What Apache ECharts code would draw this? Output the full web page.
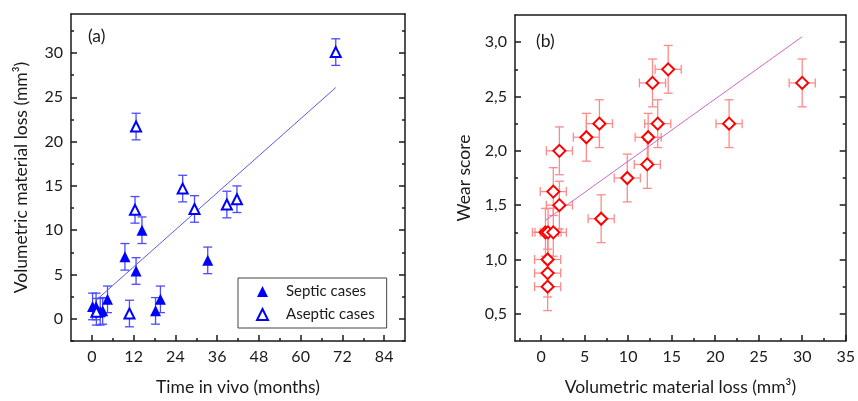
<!DOCTYPE html>
<html>
<head>
    <meta charset="utf-8"/>
    <title>Wear vs time and volumetric loss</title>
    <script src="https://cdn.jsdelivr.net/npm/echarts@6/dist/echarts.min.js"></script>
    <style>
        html, body { margin: 0; padding: 0; background: #fff; }
        #chart { width: 858px; height: 401px; }
    </style>
</head>
<body>
<div id="chart"></div>
<script>
    // (a) volumetric loss against time in vivo
    var septicMonths = [0.2, 1.2, 2.4, 3.1, 4.5, 9.5, 12.7, 14.4, 18.3, 19.7, 33.3];
    var septicLoss = [1.4, 1.4, 0.8, 0.9, 2.2, 7.0, 5.4, 10.0, 0.9, 2.2, 6.6];
    var septicErr = [1.5, 1.5, 1.5, 1.5, 1.5, 1.5, 1.5, 1.5, 1.5, 1.5, 1.5];
    var asepticMonths = [1.3, 10.8, 12.4, 12.7, 26.1, 29.5, 38.8, 41.7, 70.1];
    var asepticLoss = [0.8, 0.6, 12.3, 21.7, 14.7, 12.4, 12.9, 13.5, 30.1];
    var asepticErr = [1.5, 1.5, 1.5, 1.5, 1.5, 1.5, 1.5, 1.5, 1.5];
    var fitAX = [1.5, 70.1];
    var fitAY = [2.2, 26.1];
    var monthTicks = [0, 12, 24, 36, 48, 60, 72, 84];
    var monthMinor = [6, 18, 30, 42, 54, 66, 78];
    var lossTicks = [0, 5, 10, 15, 20, 25, 30];
    var lossMinor = [-2.5, 2.5, 7.5, 12.5, 17.5, 22.5, 27.5, 32.5];

    // (b) wear score against volumetric loss
    var wearLoss = [0.75, 0.75, 0.75, 0.5, 0.8, 1.4, 1.4, 2.1, 2.1, 5.2, 6.7, 6.9, 9.9, 12.2, 12.3, 12.8, 13.4, 14.6, 21.6, 30.0];
    var wearScore = [0.75, 0.875, 1.0, 1.25, 1.25, 1.25, 1.625, 1.5, 2.0, 2.125, 2.25, 1.375, 1.75, 1.875, 2.125, 2.625, 2.25, 2.75, 2.25, 2.625];
    var wearLossErr = [1.5, 1.5, 1.5, 1.5, 1.5, 1.5, 1.5, 1.5, 1.5, 1.5, 1.5, 1.5, 1.5, 1.5, 1.5, 1.5, 1.5, 1.5, 1.5, 1.5];
    var wearScoreErr = [0.22, 0.22, 0.22, 0.22, 0.22, 0.22, 0.22, 0.22, 0.22, 0.22, 0.22, 0.22, 0.22, 0.22, 0.22, 0.22, 0.22, 0.22, 0.22, 0.22];
    var fitBX = [0.5, 30.0];
    var fitBY = [1.36, 3.05];
    var volTicks = [0, 5, 10, 15, 20, 25, 30, 35];
    var volMinor = [-2.5, 2.5, 7.5, 12.5, 17.5, 22.5, 27.5, 32.5];
    var wearTicks = [0.5, 1.0, 1.5, 2.0, 2.5, 3.0];
    var wearMinor = [0.75, 1.25, 1.75, 2.25, 2.75];

    var FONT = 'Lato, "Open Sans", sans-serif';
    var INK = '#1a1a1a';

    function zip(a, b, c, d) {
        var out = [];
        for (var i = 0; i < a.length; i++) {
            out.push(d ? [a[i], b[i], c[i], d[i]] : (c ? [a[i], b[i], c[i]] : [a[i], b[i]]));
        }
        return out;
    }

    // one axis; ticks given explicitly so min need not sit on a tick
    function axis(grid, pos, min, max, ticks, len, labels, line, extra) {
        var a = {
            type: 'value',
            gridIndex: grid,
            position: pos,
            min: min,
            max: max,
            splitLine: {show: false},
            axisLine: {show: line, onZero: false, lineStyle: {color: INK, width: 1.5}},
            axisTick: {
                show: ticks.length > 0, inside: true, length: len,
                customValues: ticks, lineStyle: {color: INK, width: 1.5}
            },
            axisLabel: {show: false}
        };
        if (labels) {
            a.axisLabel = {
                show: true, customValues: ticks, margin: 8,
                color: INK, fontSize: 16, fontFamily: FONT, formatter: labels
            };
        }
        for (var k in extra) a[k] = extra[k];
        return a;
    }

    var intLabel = function (v) { return String(v); };
    var commaLabel = function (v) { return v.toFixed(1).replace('.', ','); };
    var axisName = {fontSize: 17.5, color: INK, fontFamily: FONT};

    // error bars drawn through the axis scale
    function errorBars(color, withX) {
        return function (params, api) {
            var x = api.value(0), y = api.value(1), ey = api.value(2);
            var c = api.coord([x, y]);
            var top = api.coord([x, y + ey]), bot = api.coord([x, y - ey]);
            var cap = 4.5;
            var st = {stroke: color, lineWidth: 1.3};
            var kids = [
                {type: 'line', shape: {x1: c[0], y1: top[1], x2: c[0], y2: bot[1]}, style: st},
                {type: 'line', shape: {x1: c[0] - cap, y1: top[1], x2: c[0] + cap, y2: top[1]}, style: st},
                {type: 'line', shape: {x1: c[0] - cap, y1: bot[1], x2: c[0] + cap, y2: bot[1]}, style: st}
            ];
            if (withX) {
                var ex = api.value(3);
                var l = api.coord([x - ex, y]), r = api.coord([x + ex, y]);
                kids.push({type: 'line', shape: {x1: l[0], y1: c[1], x2: r[0], y2: c[1]}, style: st});
                kids.push({type: 'line', shape: {x1: l[0], y1: c[1] - cap, x2: l[0], y2: c[1] + cap}, style: st});
                kids.push({type: 'line', shape: {x1: r[0], y1: c[1] - cap, x2: r[0], y2: c[1] + cap}, style: st});
            }
            return {type: 'group', children: kids};
        };
    }

    var chart = echarts.init(document.getElementById('chart'), null, {renderer: 'canvas'});

    var option = {
        backgroundColor: '#fff',
        animation: false,
        grid: [
            {left: 71, right: 453, top: 14, bottom: 55, containLabel: false},
            {left: 515, right: 11, top: 15, bottom: 55, containLabel: false}
        ],
        xAxis: [
            axis(0, 'bottom', -6, 90, monthTicks, 6, intLabel, true, {
                name: 'Time in vivo (months)', nameLocation: 'middle', nameGap: 37, nameTextStyle: axisName
            }),
            axis(0, 'bottom', -6, 90, monthMinor, 3, null, false),
            axis(0, 'top', -6, 90, [], 0, null, true),
            axis(1, 'bottom', -3, 35, volTicks, 6, intLabel, true, {
                name: 'Volumetric material loss (mm³)', nameLocation: 'middle', nameGap: 37, nameTextStyle: axisName
            }),
            axis(1, 'bottom', -3, 35, volMinor, 3, null, false),
            axis(1, 'top', -3, 35, [], 0, null, true)
        ],
        yAxis: [
            axis(0, 'left', -2.5, 34.4, lossTicks, 6, intLabel, true, {
                name: 'Volumetric material loss (mm³)', nameLocation: 'middle', nameGap: 41, nameTextStyle: axisName
            }),
            axis(0, 'left', -2.5, 34.4, lossMinor, 3, null, false),
            axis(0, 'right', -2.5, 34.4, lossTicks, 6, null, true),
            axis(0, 'right', -2.5, 34.4, lossMinor, 3, null, false),
            axis(1, 'left', 0.25, 3.25, wearTicks, 6, commaLabel, true, {
                name: 'Wear score', nameLocation: 'middle', nameGap: 42, nameTextStyle: axisName
            }),
            axis(1, 'left', 0.25, 3.25, wearMinor, 3, null, false),
            axis(1, 'right', 0.25, 3.25, wearTicks, 6, null, true),
            axis(1, 'right', 0.25, 3.25, wearMinor, 3, null, false)
        ],
        legend: {
            data: ['Septic cases', 'Aseptic cases'],
            orient: 'vertical',
            left: 238,
            top: 278,
            padding: [6, 12, 6, 18],
            itemGap: 8,
            itemWidth: 11,
            itemHeight: 11,
            borderColor: '#444',
            borderWidth: 1,
            textStyle: {fontSize: 15, color: INK, fontFamily: FONT, padding: [0, 0, 0, 13]}
        },
        graphic: [
            {type: 'text', left: 88, top: 27, style: {text: '(a)', fontSize: 17.5, fill: INK, fontFamily: FONT}},
            {type: 'text', left: 536, top: 32, style: {text: '(b)', fontSize: 17.5, fill: INK, fontFamily: FONT}}
        ],
        series: [
            {
                type: 'custom', xAxisIndex: 0, yAxisIndex: 0, z: 2,
                renderItem: errorBars('#4b4bff', false),
                data: zip(septicMonths, septicLoss, septicErr).concat(zip(asepticMonths, asepticLoss, asepticErr))
            },
            {
                type: 'line', xAxisIndex: 0, yAxisIndex: 0, z: 3,
                showSymbol: false, silent: true,
                lineStyle: {color: '#5a5af0', width: 1},
                data: zip(fitAX, fitAY)
            },
            {
                name: 'Septic cases', type: 'scatter', xAxisIndex: 0, yAxisIndex: 0, z: 4,
                symbol: 'triangle', symbolSize: 11,
                itemStyle: {color: '#0000ff', opacity: 1},
                data: zip(septicMonths, septicLoss)
            },
            {
                name: 'Aseptic cases', type: 'scatter', xAxisIndex: 0, yAxisIndex: 0, z: 4,
                symbol: 'triangle', symbolSize: 10,
                itemStyle: {color: '#fff', borderColor: '#0000ff', borderWidth: 2, opacity: 1},
                data: zip(asepticMonths, asepticLoss)
            },
            {
                type: 'custom', xAxisIndex: 3, yAxisIndex: 4, z: 2,
                renderItem: errorBars('#ff8a8a', true),
                data: zip(wearLoss, wearScore, wearScoreErr, wearLossErr)
            },
            {
                type: 'line', xAxisIndex: 3, yAxisIndex: 4, z: 3,
                showSymbol: false, silent: true,
                lineStyle: {color: '#d266c8', width: 1},
                data: zip(fitBX, fitBY)
            },
            {
                name: 'Wear', type: 'scatter', xAxisIndex: 3, yAxisIndex: 4, z: 4,
                symbol: 'diamond', symbolSize: 12,
                itemStyle: {color: '#fff', borderColor: '#ff0000', borderWidth: 2, opacity: 1},
                data: zip(wearLoss, wearScore)
            }
        ]
    };
    chart.setOption(option);
</script>
</body>
</html>
